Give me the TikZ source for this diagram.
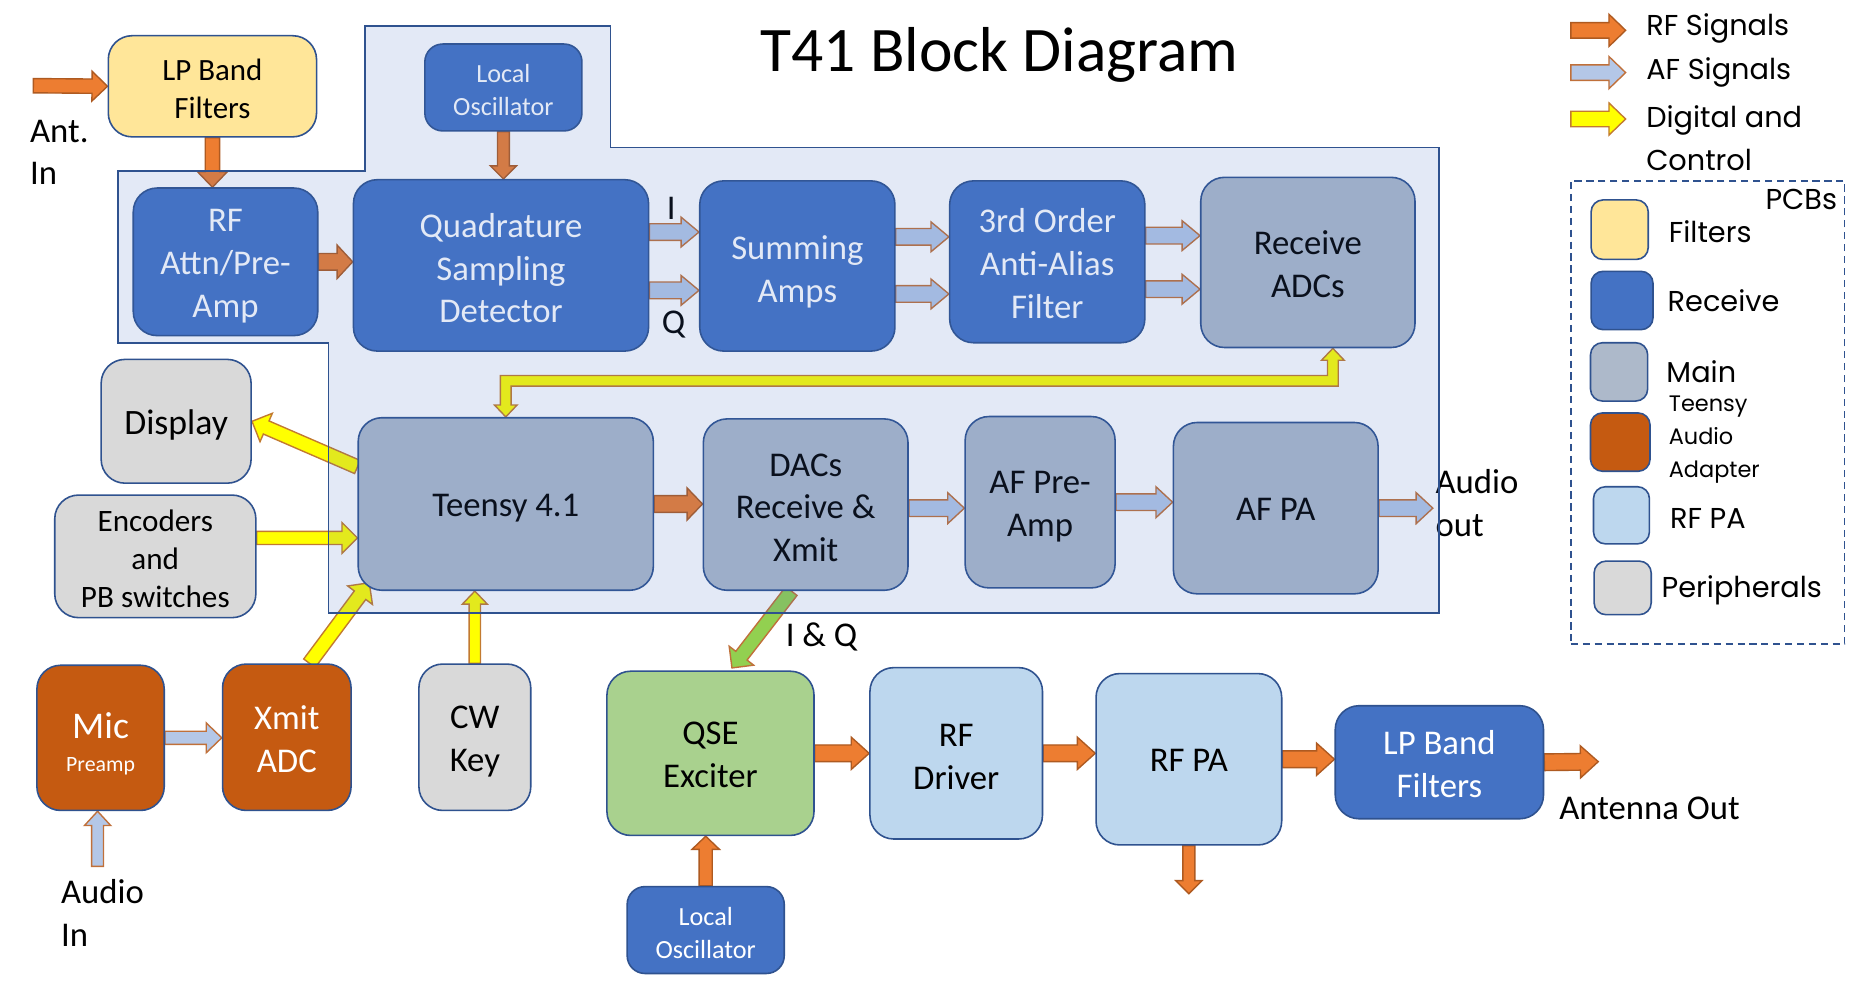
\documentclass[tikz,border=0pt]{standalone}
\usepackage{fontspec}
\setmainfont{Carlito}
\newfontfamily\legfont{Poppins}
\usetikzlibrary{calc}
\definecolor{bluebox}{HTML}{4472C4}
\definecolor{bord}{HTML}{2F528F}
\definecolor{mainbox}{HTML}{ADB9CA}
\definecolor{filt}{HTML}{FFE699}
\definecolor{taa}{HTML}{C55A11}
\definecolor{rfpac}{HTML}{BDD7EE}
\definecolor{periph}{HTML}{D9D9D9}
\definecolor{qsec}{HTML}{A9D18E}
\definecolor{rfo}{HTML}{ED7D31}
\definecolor{rfoD}{HTML}{AE5A21}
\definecolor{afb}{HTML}{B4C7E7}
\definecolor{afD}{HTML}{C0703A}
\definecolor{ylw}{HTML}{FFFF00}
\definecolor{ylwD}{HTML}{C27A30}
\definecolor{grn}{HTML}{92D050}
\pgfdeclarelayer{bg}
\pgfdeclarelayer{arr}
\pgfdeclarelayer{fg}
\pgfsetlayers{bg,arr,main,fg}
\newcommand\fsz[2]{\fontsize{#1}{#2}\selectfont}
\newcommand\bigf{\fsz{17.5}{21.6}}
\newcommand\sr[1]{\rule{0pt}{#1em}}
\def\sw{4pt}\def\hw{8pt}\def\hl{8pt}
\newcommand\barrow[3]{%
  \path let \p1=($(#3)-(#2)$) in
    \pgfextra{\pgfmathsetmacro\bang{atan2(\y1,\x1)}%
      \pgfmathsetmacro\blen{veclen(\x1,\y1)}%
      \global\let\gbang\bang\global\let\gblen\blen};
  \begin{scope}[shift={(#2)},rotate=\gbang]
    \filldraw[#1] (0pt,-\sw) -- ({\gblen*1pt-\hl},-\sw) -- ({\gblen*1pt-\hl},-\hw)
      -- ({\gblen*1pt},0pt) -- ({\gblen*1pt-\hl},\hw) -- ({\gblen*1pt-\hl},\sw) -- (0pt,\sw) -- cycle;
  \end{scope}}
\tikzset{
  box/.style={draw=bord, line width=0.8pt, rounded corners=12pt, inner sep=0pt, align=center},
  sz/.style 2 args={minimum width=#1*0.6pt, minimum height=#2*0.6pt},
  aw/.code n args={3}{\def\sw{#1*0.3pt}\def\hw{#2*0.3pt}\def\hl{#3*0.6pt}},
  arrbase/.style={line width=0.7pt, line join=miter},
  rfarr/.style={arrbase, fill=rfo, draw=rfoD},
  afarr/.style={arrbase, fill=afb, draw=afD},
  ylarr/.style={arrbase, fill=ylw, draw=ylwD},
  grarr/.style={arrbase, fill=grn, draw=afD},
  lbl/.style={inner sep=0pt, align=left},
  leg/.style={inner sep=0pt, align=left, anchor=west, font=\legfont\fsz{14.5}{21.6}},
  sml/.style={inner sep=0pt, align=left, anchor=west, font=\legfont\fsz{11.3}{16.8}},
  swatch/.style={draw=bord, line width=0.8pt, rounded corners=6pt, inner sep=0pt},
}
\begin{document}
\begin{tikzpicture}[x=0.6pt,y=-0.6pt]
\useasboundingbox (0,0) rectangle (1568,828);
\begin{pgfonlayer}{bg}
\fill[white] (0,0) rectangle (1568,828);
\end{pgfonlayer}

% title
\node[font=\fsz{32}{38}] (title) at (840,46) {T41 Block Diagram};

% receive chain
\node[box,sz={175}{85},fill=filt,font=\fsz{15.6}{19.2}] (lpf) at (178.5,72.5) {\sr{0.85}LP Band\\Filters};
\node[box,sz={132}{73},fill=bluebox,text=white,font=\fsz{13.2}{16.8},rounded corners=9pt] (lo1) at (423,73.5) {\sr{0.9}Local\\Oscillator};
\node[box,sz={155}{124},fill=bluebox,text=white,font=\bigf] (rfamp) at (189.5,220) {\sr{0.9}RF\\Attn/Pre-\\Amp};
\node[box,sz={248}{144},fill=bluebox,text=white,font=\bigf] (qsd) at (421,223) {\sr{0.85}Quadrature\\Sampling\\Detector};
\node[box,sz={164}{143},fill=bluebox,text=white,font=\bigf] (sum) at (670,223.5) {\sr{1.02}Summing\\Amps};
\node[box,sz={164}{136},fill=bluebox,text=white,font=\bigf] (aaf) at (880,220) {\sr{0.78}3rd Order\\Anti-Alias\\Filter};
\node[box,sz={180}{143},fill=mainbox,font=\bigf] (adc) at (1099,220.5) {\sr{0.8}Receive\\ADCs};

% main board
\node[box,sz={126}{104},fill=periph,font=\fsz{18}{21.6}] (disp) at (148,354) {\sr{0.9}Display};
\node[box,sz={169}{103},fill=periph,font=\fsz{15.7}{19.2}] (enc) at (130.5,467.5) {\sr{0.86}Encoders\\and\\PB switches};
\node[box,sz={248}{145},fill=mainbox,font=\bigf] (teensy) at (425,423.5) {\sr{0.9}Teensy 4.1};
\node[box,sz={172}{144},fill=mainbox,font=\bigf] (dacs) at (677,424) {\sr{0.83}DACs\\Receive \&\\Xmit};
\node[box,sz={126}{144},fill=mainbox,font=\bigf] (afpre) at (874,422) {\sr{0.9}AF Pre-\\Amp};
\node[box,sz={172}{144},fill=mainbox,font=\bigf] (afpa) at (1072,427) {\sr{0.72}AF PA};

% audio adapter / peripherals
\node[box,sz={107}{122},fill=taa,text=white,font=\fsz{11}{17}] (mic) at (84.5,620) {\rule{0pt}{19pt}{\fontsize{19}{17}\selectfont Mic}\\Preamp};
\node[box,sz={108}{123},fill=taa,text=white,font=\bigf] (xadc) at (241,619.5) {\sr{0.78}Xmit\\ADC};
\node[box,sz={94}{123},fill=periph,font=\bigf] (cw) at (399,619.5) {\sr{0.9}CW\\Key};

% transmit chain
\node[box,sz={174}{138},fill=qsec,font=\bigf] (qse) at (597,633) {\sr{0.72}QSE\\Exciter};
\node[box,sz={132}{73},fill=bluebox,text=white,font=\fsz{13.2}{16.8},rounded corners=9pt] (lo2) at (593,781.5) {\sr{0.9}Local\\Oscillator};
\node[box,sz={145}{144},fill=rfpac,font=\bigf] (rfdrv) at (803.5,633) {\sr{0.83}RF\\Driver};
\node[box,sz={156}{144},fill=rfpac,font=\bigf] (rfpa) at (999,638) {\sr{0.72}RF PA};
\node[box,sz={175}{95},fill=bluebox,text=white,font=\bigf] (lpf2) at (1209.5,640.5) {\sr{0.78}LP Band\\Filters};

% labels
\node[lbl,anchor=west,font=\bigf] (antlbl) at (25,128) {Ant.\\In};
\node[lbl,font=\bigf] (ilbl) at (564,175) {I};
\node[lbl,font=\bigf] (qlbl) at (566,273) {Q};
\node[lbl,anchor=west,font=\bigf] (aoutlbl) at (1206,423) {Audio\\out};
\node[lbl,anchor=west,font=\bigf] (ainlbl) at (51,767) {Audio\\In};
\node[lbl,anchor=west,font=\bigf] (iqlbl) at (660,535) {I \& Q};
\node[lbl,anchor=west,font=\bigf] (antout) at (1310,679) {Antenna Out};

% legend
\node[draw=bord, dashed, dash pattern=on 3.6pt off 2.4pt, line width=0.8pt, sz={230}{389}, inner sep=0pt] (pcb) at (1435,346.5) {};
\node[leg,anchor=east] (pcblbl) at (1544,168) {PCBs};
\node[leg] (l1) at (1383,24) {RF Signals};
\node[leg] (l2) at (1383,61) {AF Signals};
\node[leg] (l3) at (1383,116) {Digital and\\Control};
\node[swatch,sz={48}{50},fill=filt] (s1) at (1361,193) {};
\node[swatch,sz={52}{49},fill=bluebox] (s2) at (1363,252.5) {};
\node[swatch,sz={48}{49},fill=mainbox] (s3) at (1360.5,312.5) {};
\node[swatch,sz={50}{49},fill=taa] (s4) at (1361.5,371.5) {};
\node[swatch,sz={47}{48},fill=rfpac] (s5) at (1362.5,433) {};
\node[swatch,sz={48}{45},fill=periph] (s6) at (1363.5,494) {};
\node[leg] (t1) at (1402,195) {Filters};
\node[leg] (t2) at (1401,253) {Receive};
\node[leg] (t3) at (1400,312) {Main};
\node[sml] (t4) at (1402,369.5) {Teensy\\Audio\\Adapter};
\node[leg] (t5) at (1403,436) {RF PA};
\node[leg] (t6) at (1396,496) {Peripherals};

% helper coordinates
\coordinate (antin) at (28,72);
\coordinate (yI) at (0,195);
\coordinate (yQ) at (0,244);
\coordinate (yI2) at (0,199);
\coordinate (yQ2) at (0,247);
\coordinate (yI3) at (0,198);
\coordinate (yQ3) at (0,243);
\coordinate (yE) at (0,452);
\coordinate (yA) at (0,427);
\coordinate (yC) at (0,320);
\coordinate (bb) at ($(adc.south)+(21,0)$);
\coordinate (da) at (teensy.166);
\coordinate (xa1) at ($(xadc.north)+(19,0)$);
\coordinate (xa2) at ($(teensy.south west)+(10,-7)$);
\coordinate (g1) at ($(dacs.south)+(-12,0)$);
\coordinate (g2) at ($(qse.north)+(18,-2)$);
\coordinate (aout) at (1204,427);
\coordinate (ain) at (82,728);
\coordinate (aout2) at (1343,640);
\coordinate (rfdown) at (999,751);
\coordinate (lg1a) at (1320,25.5);
\coordinate (lg1b) at (1366,25.5);
\coordinate (lg2a) at (1320,61);
\coordinate (lg2b) at (1366,61);
\coordinate (lg3a) at (1320,100);
\coordinate (lg3b) at (1366,100);

\begin{pgfonlayer}{arr}
\barrow{rfarr,aw={12}{25}{13}}{antin}{lpf.west}
\barrow{rfarr,aw={12}{25}{13}}{lpf.south}{lpf.south |- rfamp.north}
\barrow{rfarr,aw={10}{22}{11}}{lo1.south}{lo1.south |- qsd.north}
\barrow{rfarr,aw={14}{28}{13}}{rfamp.east}{rfamp.east -| qsd.west}
\barrow{afarr,aw={14}{25}{15}}{qsd.east |- yI}{sum.west |- yI}
\barrow{afarr,aw={14}{25}{15}}{qsd.east |- yQ}{sum.west |- yQ}
\barrow{afarr,aw={14}{25}{15}}{sum.east |- yI2}{aaf.west |- yI2}
\barrow{afarr,aw={14}{25}{15}}{sum.east |- yQ2}{aaf.west |- yQ2}
\barrow{afarr,aw={14}{25}{15}}{aaf.east |- yI3}{adc.west |- yI3}
\barrow{afarr,aw={14}{25}{15}}{aaf.east |- yQ3}{adc.west |- yQ3}
% bidirectional digital bus Teensy <-> Receive ADCs
\filldraw[ylarr] (teensy.north) -- ++(-9.5,-10) -- ++(5,0)
  -- ($(teensy.north |- yC)+(-4.5,-4.5)$) -- ($(bb |- yC)+(-4.5,-4.5)$)
  -- ($(bb)+(-4.5,10)$) -- ++(-5,0) -- (bb) -- ++(9.5,10) -- ++(-5,0)
  -- ($(bb |- yC)+(4.5,4.5)$) -- ($(teensy.north |- yC)+(4.5,4.5)$)
  -- ($(teensy.north)+(4.5,-10)$) -- ++(5,0) -- cycle;
\barrow{ylarr,aw={12}{26}{13}}{da}{disp.east}
\barrow{ylarr,aw={11}{26}{13}}{enc.east |- yE}{teensy.west |- yE}
\barrow{ylarr,aw={12}{26}{13}}{xa1}{xa2}
\barrow{ylarr,aw={9.5}{21}{11}}{cw.north}{cw.north |- teensy.south}
\barrow{rfarr,aw={14}{27}{13}}{teensy.east}{teensy.east -| dacs.west}
\barrow{afarr,aw={14}{26}{14}}{dacs.east |- yA}{afpre.west |- yA}
\barrow{afarr,aw={14}{26}{14}}{afpre.east}{afpre.east -| afpa.west}
\barrow{afarr,aw={14}{26}{14}}{afpa.east}{aout}
\barrow{grarr,aw={12}{26}{13}}{g1}{g2}
\barrow{afarr,aw={11}{25}{13}}{mic.east}{mic.east -| xadc.west}
\barrow{afarr,aw={10}{22}{12}}{ain}{ain |- mic.south}
\barrow{rfarr,aw={14}{27}{15}}{qse.east}{qse.east -| rfdrv.west}
\barrow{rfarr,aw={14}{27}{15}}{rfdrv.east}{rfdrv.east -| rfpa.west}
\barrow{rfarr,aw={14}{27}{15}}{rfpa.east}{rfpa.east -| lpf2.west}
\barrow{rfarr,aw={14}{27}{15}}{lpf2.east}{aout2}
\barrow{rfarr,aw={10}{22}{11}}{rfpa.south}{rfdown}
\barrow{rfarr,aw={11}{23}{11}}{lo2.north}{lo2.north |- qse.south}
\barrow{rfarr,aw={13}{27}{14}}{lg1a}{lg1b}
\barrow{afarr,aw={13}{27}{14}}{lg2a}{lg2b}
\barrow{ylarr,aw={13}{27}{14}}{lg3a}{lg3b}
\end{pgfonlayer}

% main board region (translucent overlay)
\begin{pgfonlayer}{fg}
\filldraw[fill=bluebox, fill opacity=0.15, draw=bord, line width=0.9pt]
  (307,22) -- (513,22) -- (513,124) -- (1209,124) -- (1209,515) -- (276,515)
  -- (276,288) -- (99,288) -- (99,144) -- (307,144) -- cycle;
\end{pgfonlayer}
\end{tikzpicture}
\end{document}
